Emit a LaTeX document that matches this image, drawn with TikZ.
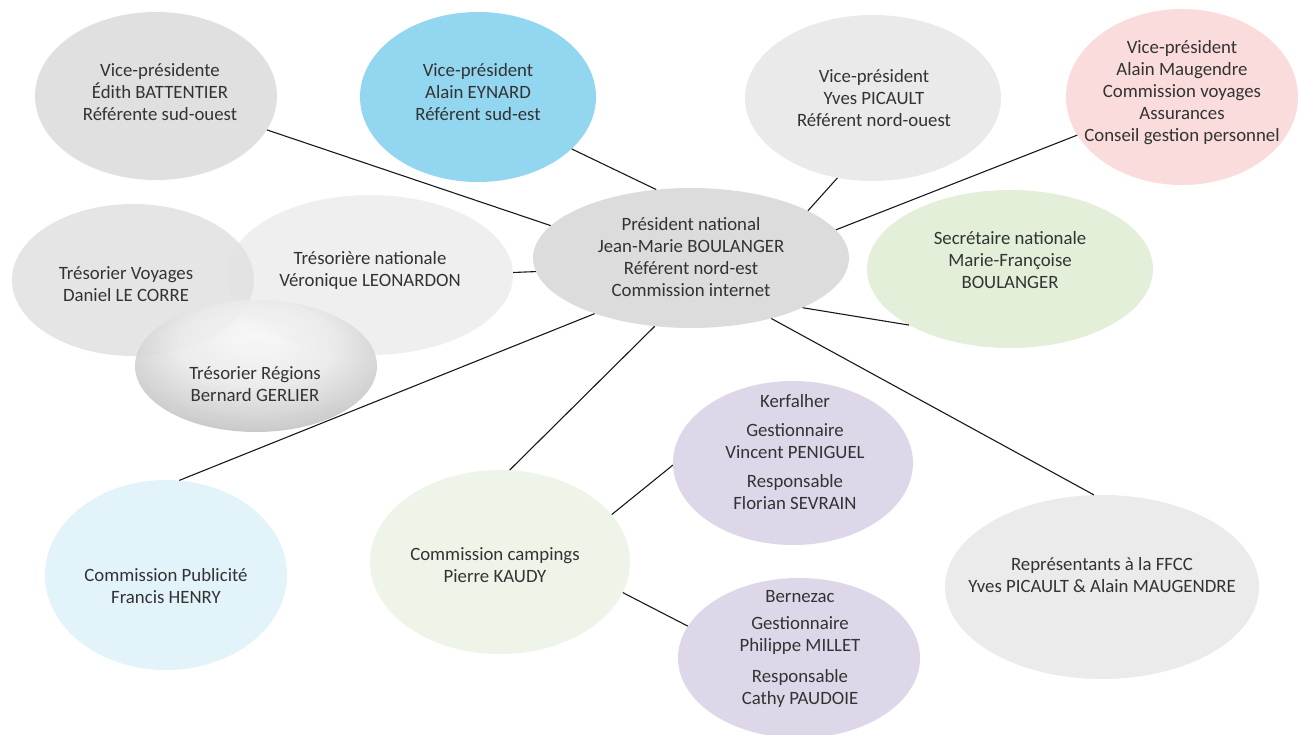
\documentclass[tikz,border=0pt]{standalone}
\usepackage{fontspec}
\setmainfont{Carlito}
\usetikzlibrary{shapes.geometric}
\definecolor{txtc}{HTML}{333333}
\definecolor{cgray}{HTML}{E0E0E1}
\definecolor{cblue}{HTML}{92D6F0}
\definecolor{clgray}{HTML}{EAEAEB}
\definecolor{cpink}{HTML}{FADCDC}
\definecolor{cpres}{HTML}{DCDCDD}
\definecolor{cgreen}{HTML}{E3EFD9}
\definecolor{cvoy}{HTML}{E5E5E5}
\definecolor{cpub}{HTML}{E2F3FA}
\definecolor{ccamp}{HTML}{EEF5E8}
\definecolor{clav}{HTML}{DDD7E9}
\definecolor{cffcc}{HTML}{EBEBEB}
\pgfdeclareradialshading{regshade}{\pgfpoint{0bp}{12bp}}{color(0bp)=(black!3); color(16bp)=(black!8); color(34bp)=(black!26); color(50bp)=(black!44); color(64bp)=(black!48)}
\begin{document}
\begin{tikzpicture}[x=1pt,y=-1pt,
  ell/.style={ellipse, draw=none, inner sep=0pt},
  txt/.style={align=center, text=txtc, font=\fontsize{18.8}{22}\selectfont, inner sep=0pt},
  link/.style={draw=black!90, line width=1.1pt}]
\useasboundingbox (0,0) rectangle (1298,735);
\fill[white] (0,0) rectangle (1298,735);
% ellipses
\node[ell, fill=cgray, minimum width=242, minimum height=168] (vp1) at (156,96) {};
\node[ell, fill=cblue, minimum width=236, minimum height=170] (vp2) at (478,97) {};
\node[ell, fill=clgray, minimum width=256, minimum height=166] (vp3) at (873,98) {};
\node[ell, fill=cpink, minimum width=232, minimum height=176] (vp4) at (1182,97) {};
\node[ell, fill=cpres, minimum width=316, minimum height=140] (pres) at (691,258) {};
\node[ell, fill=cgreen, minimum width=286, minimum height=158] (sec) at (1010,269) {};
\node[ell, fill=cvoy, minimum width=242, minimum height=152] (voy) at (133,280) {};
\node[ell, fill=black!11, fill opacity=0.55, minimum width=286, minimum height=160] (tres) at (370,275) {};
\node[ell, shading=regshade, opacity=0.9, minimum width=242, minimum height=132] (reg) at (256,366) {};
\node[ell, fill=cpub, minimum width=242, minimum height=190] (pub) at (166,575) {};
\node[ell, fill=ccamp, minimum width=260, minimum height=184] (camp) at (500,562) {};
\node[ell, fill=clav, minimum width=240, minimum height=164] (ker) at (793,463) {};
\node[ell, fill=clav, minimum width=242, minimum height=160] (ber) at (799,658) {};
\node[ell, fill=cffcc, minimum width=314, minimum height=184] (ffcc) at (1102,587) {};
% texts
\node[txt] (vp1t) at (160,92) {Vice-présidente\\Édith BATTENTIER\\Référente sud-ouest};
\node[txt] (vp2t) at (478,92) {Vice-président\\Alain EYNARD\\Référent sud-est};
\node[txt] (vp3t) at (874,98) {Vice-président\\Yves PICAULT\\Référent nord-ouest};
\node[txt] (vp4t) at (1182,93) {Vice-président\\Alain Maugendre\\Commission voyages\\Assurances\\Conseil gestion personnel};
\node[txt] (prest) at (691,257) {Président national\\Jean-Marie BOULANGER\\Référent nord-est\\Commission internet};
\node[txt] (sect) at (1010,260) {Secrétaire nationale\\Marie-Françoise\\BOULANGER};
\node[txt] (voyt) at (126,284) {Trésorier Voyages\\Daniel LE CORRE};
\node[txt] (trest) at (370,270) {Trésorière nationale\\Véronique LEONARDON};
\node[txt] (regt) at (255,384) {Trésorier Régions\\Bernard GERLIER};
\node[txt] (pubt) at (166,586) {Commission Publicité\\Francis HENRY};
\node[txt] (campt) at (495,565) {Commission campings\\Pierre KAUDY};
\node[txt] (kert) at (795,452) {Kerfalher\\[7pt]Gestionnaire\\Vincent PENIGUEL\\[7pt]Responsable\\Florian SEVRAIN};
\node[txt] (bert) at (800,649) {Bernezac\\[5pt]Gestionnaire\\Philippe MILLET\\[9pt]Responsable\\Cathy PAUDOIE};
\node[txt] (ffcct) at (1102,575) {Représentants à la FFCC\\Yves PICAULT \& Alain MAUGENDRE};
% connectors
\draw[link] (pres.167) -- (vp1.-17.3);
\draw[link] (pres.117.3) -- (vp2.-29.2);
\draw[link] (pres.22.3) -- (vp3.246.1);
\draw[link] (pres.11.8) -- (vp4.200.3);
\draw[link] (pres.-24.1) -- (sec.209.2);
\draw[link] (pres.185) -- (tres.1);
\draw[link] (pres.210) -- (pub.82.3);
\draw[link] (pres.242.4) -- (camp.84.6);
\draw[link] (pres.-37.1) -- (ffcc.95.4);
\draw[link] (camp.23.1) -- (ker.181.4);
\draw[link] (camp.-14.1) -- (ber.164.9);
\end{tikzpicture}
\end{document}
